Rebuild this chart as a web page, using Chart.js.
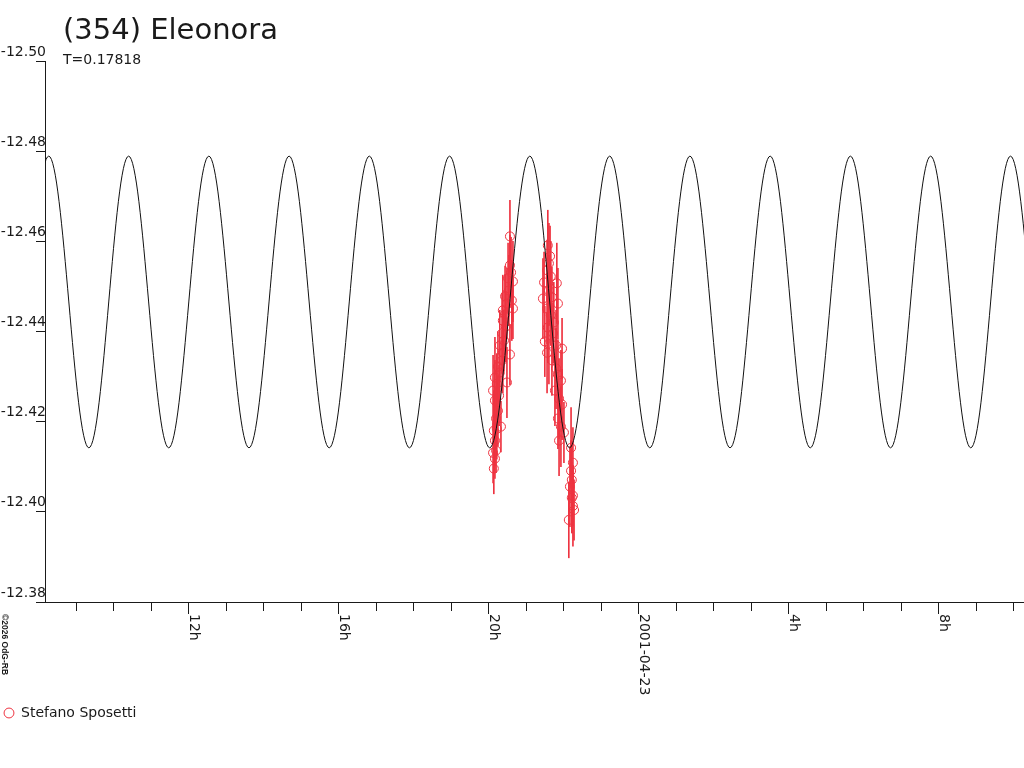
<!DOCTYPE html>
<html lang="en">
<head>
<meta charset="UTF-8">
<title>(354) Eleonora</title>
<script src="https://cdn.jsdelivr.net/npm/chart.js"></script>
<style>
    body { margin: 0; background: #fff; }
    #wrap { position: relative; width: 1024px; height: 768px; }
    canvas { position: absolute; left: 0; top: 0; }
    .txt { position: absolute; white-space: nowrap; color: #1a1a1a; font-family: "DejaVu Sans", sans-serif; line-height: 1; }
    #title { left: 63px; top: 14.5px; font-size: 29px; }
    #period { left: 63px; top: 51.5px; font-size: 14px; }
    #credit { left: 9px; top: 614px; font: bold 8.5px/1 "Liberation Sans", Arial, sans-serif; transform-origin: 0 0; transform: rotate(90deg); }
</style>
</head>
<body>
<div id="wrap">
    <canvas id="lc" width="1024" height="768"></canvas>
    <div class="txt" id="title"></div>
    <div class="txt" id="period"></div>
    <div class="txt" id="credit">©2026 OdG-RB</div>
</div>

<script>
    const titleText = "(354) Eleonora";
    const periodText = "T=0.17818";
    const observer = "Stefano Sposetti";

    // x values are hours since 2001-04-22 00:00 UT
    const xRange = [8.16, 34.27];
    const yRange = [-12.50, -12.38];
    const yStep = 0.02;

    const xLabelHours = [12, 16, 20, 24, 28, 32];
    const xLabelTexts = ["12h", "16h", "20h", "2001-04-23", "4h", "8h"];

    // model curve: extremes (the two at each end lie outside and are clipped)
    const curveHours = [6.12, 7.19, 8.26, 9.33, 10.39, 11.46, 12.53, 13.60, 14.67, 15.74, 16.81, 17.88, 18.95, 20.02,
                        21.09, 22.15, 23.22, 24.29, 25.36, 26.43, 27.50, 28.57, 29.64, 30.71, 31.78, 32.85, 33.91,
                        34.98, 36.05];
    const curveMag = [-12.4789, -12.4142, -12.4789, -12.4142, -12.4789, -12.4142, -12.4789, -12.4142, -12.4789,
                      -12.4142, -12.4789, -12.4142, -12.4789, -12.4142, -12.4789, -12.4142, -12.4789, -12.4142,
                      -12.4789, -12.4142, -12.4789, -12.4142, -12.4789, -12.4142, -12.4789, -12.4142, -12.4789,
                      -12.4142, -12.4789];

    // observations
    const obsHours = [20.13, 20.16, 20.11, 20.19, 20.16, 20.13, 20.21, 20.32, 20.19, 20.24, 20.16, 20.27, 20.11,
                      20.21, 20.16, 20.29, 20.24, 20.35, 20.48, 20.37, 20.56, 20.29, 20.40, 20.35, 20.45, 20.37,
                      20.43, 20.37, 20.64, 20.48, 20.61, 20.43, 20.53, 20.64, 20.51, 20.59, 20.56, 20.56,
                      21.57, 21.63, 21.60, 21.55, 21.65, 21.47, 21.81, 21.60, 21.44, 21.68, 21.84, 21.55, 21.65,
                      21.73, 21.57, 21.71, 21.49, 21.60, 21.79, 21.95, 21.55, 21.68, 21.79, 21.84, 21.92, 21.76,
                      21.87, 21.95, 21.84, 21.92, 21.87, 22.00, 22.19, 22.24, 22.19, 22.21, 22.16, 22.24, 22.21,
                      22.27, 22.13, 22.24];
    const obsMag = [-12.4096, -12.4118, -12.4131, -12.4136, -12.4158, -12.4180, -12.4184, -12.4189, -12.4207,
                    -12.4224, -12.4247, -12.4258, -12.4269, -12.4284, -12.4298, -12.4309, -12.4322, -12.4336,
                    -12.4287, -12.4353, -12.4349, -12.4369, -12.4380, -12.4396, -12.4411, -12.4424, -12.4438,
                    -12.4447, -12.4451, -12.4462, -12.4469, -12.4478, -12.4491, -12.4511, -12.4518, -12.4531,
                    -12.4547, -12.4611,
                    -12.4591, -12.4567, -12.4551, -12.4536, -12.4522, -12.4509, -12.4507, -12.4491, -12.4473,
                    -12.4476, -12.4462, -12.4451, -12.4436, -12.4420, -12.4409, -12.4396, -12.4378, -12.4373,
                    -12.4369, -12.4362, -12.4353, -12.4336, -12.4318, -12.4304, -12.4291, -12.4269, -12.4251,
                    -12.4238, -12.4207, -12.4189, -12.4158, -12.4176, -12.4142, -12.4109, -12.4091, -12.4071,
                    -12.4056, -12.4036, -12.4031, -12.4004, -12.3982, -12.4013];
    const obsErr = [0.0056, 0.0044, 0.0067, 0.0049, 0.0056, 0.0089, 0.0067, 0.0056, 0.0067, 0.0078, 0.0089,
                    0.0067, 0.0078, 0.0067, 0.0089, 0.0067, 0.0078, 0.0067, 0.0078, 0.0089, 0.0067, 0.0078,
                    0.0067, 0.0089, 0.0078, 0.0067, 0.0089, 0.0078, 0.0067, 0.0078, 0.0089, 0.0067, 0.0078,
                    0.0089, 0.0078, 0.0078, 0.0067, 0.0080,
                    0.0078, 0.0067, 0.0089, 0.0067, 0.0078, 0.0067, 0.0089, 0.0078, 0.0089, 0.0067, 0.0078,
                    0.0078, 0.0067, 0.0089, 0.0078, 0.0067, 0.0078, 0.0089, 0.0078, 0.0067, 0.0089, 0.0078,
                    0.0089, 0.0078, 0.0067, 0.0078, 0.0089, 0.0078, 0.0067, 0.0089, 0.0078, 0.0067, 0.0089,
                    0.0078, 0.0067, 0.0078, 0.0089, 0.0067, 0.0078, 0.0067, 0.0084, 0.0089];

    const red = "#ee3340";
    const ink = "#1a1a1a";
    const font = "DejaVu Sans";

    document.getElementById("title").textContent = titleText;
    document.getElementById("period").textContent = periodText;

    // hour labels read top to bottom under the major ticks
    const hourLabels = {
        id: "hourLabels",
        afterDraw(chart) {
            const ctx = chart.ctx;
            const x = chart.scales.x;
            ctx.save();
            ctx.font = "14px '" + font + "'";
            ctx.fillStyle = ink;
            ctx.textAlign = "left";
            ctx.textBaseline = "alphabetic";
            xLabelHours.forEach((h, i) => {
                ctx.save();
                ctx.translate(x.getPixelForValue(h) + 1, x.top + 12);
                ctx.rotate(Math.PI / 2);
                ctx.fillText(xLabelTexts[i], 0, 0);
                ctx.restore();
            });
            ctx.restore();
        }
    };

    new Chart(document.getElementById("lc"), {
        type: "scatter",
        data: {
            datasets: [
                {
                    type: "line",
                    label: "model",
                    data: curveHours.map((h, i) => ({ x: h, y: curveMag[i] })),
                    borderColor: "#111",
                    borderWidth: 1,
                    pointRadius: 0,
                    tension: 0.36,
                    fill: false,
                    order: 0
                },
                {
                    type: "scatter",
                    label: observer,
                    data: obsHours.map((h, i) => ({ x: h, y: obsMag[i] })),
                    pointStyle: "circle",
                    pointRadius: 4.5,
                    borderColor: red,
                    borderWidth: 1,
                    backgroundColor: "rgba(0,0,0,0)",
                    order: 1
                },
                {
                    type: "bar",
                    label: "errors",
                    data: obsHours.map((h, i) => ({ x: h, y: [obsMag[i] - obsErr[i], obsMag[i] + obsErr[i]] })),
                    backgroundColor: red,
                    borderWidth: 0,
                    barThickness: 1,
                    order: 2
                }
            ]
        },
        options: {
            responsive: false,
            animation: false,
            devicePixelRatio: 1,
            events: [],
            layout: { autoPadding: false, padding: { top: 61, left: 0, right: 0, bottom: 38 } },
            scales: {
                x: {
                    type: "linear",
                    min: xRange[0],
                    max: xRange[1],
                    offset: false,
                    border: { color: ink, width: 1 },
                    grid: {
                        offset: false,
                        drawOnChartArea: false,
                        tickLength: 12,
                        tickColor: ink,
                        tickBorderDash: c => (c.tick && xLabelHours.includes(c.tick.value)) ? [] : [8, 20]
                    },
                    ticks: { stepSize: 1, includeBounds: false, autoSkip: false, display: false },
                    afterFit: s => { s.height = 100; }
                },
                y: {
                    type: "linear",
                    reverse: true,
                    min: yRange[0],
                    max: yRange[1],
                    border: { color: ink, width: 1 },
                    grid: { drawOnChartArea: false, tickLength: 9, tickColor: ink },
                    ticks: {
                        stepSize: yStep,
                        padding: -10,
                        labelOffset: -9,
                        color: ink,
                        font: { family: font, size: 14 },
                        callback: v => v.toFixed(2)
                    },
                    afterFit: s => { s.width = 45; }
                }
            },
            plugins: {
                tooltip: { enabled: false },
                title: { display: false },
                legend: {
                    display: true,
                    position: "bottom",
                    align: "start",
                    labels: {
                        usePointStyle: true,
                        boxHeight: 7,
                        boxWidth: 10,
                        padding: 4,
                        color: ink,
                        font: { family: font, size: 14 },
                        filter: item => item.text === observer
                    }
                }
            }
        },
        plugins: [hourLabels]
    });
</script>
</body>
</html>
